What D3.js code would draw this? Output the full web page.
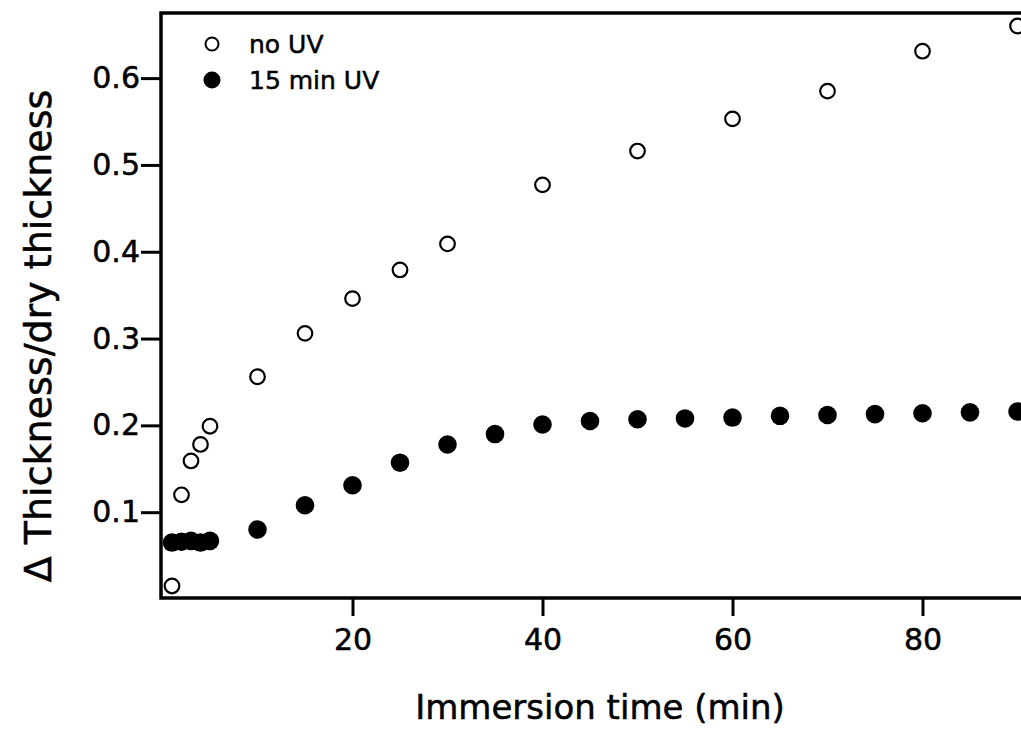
<!DOCTYPE html>
<html>
<head>
<meta charset="utf-8">
<script src="https://cdn.jsdelivr.net/npm/d3@7"></script>
<style>
  body { margin: 0; background: #fff; }
  svg { display: block; }
  text { font-family: "DejaVu Sans", sans-serif; fill: #000; stroke: #000; stroke-width: 0.5px; }
</style>
</head>
<body>
<svg id="chart" width="1021" height="731"></svg>
<script>
'use strict';

// immersion time (min)
var timesNoUV = [1, 2, 3, 4, 5, 10, 15, 20, 25, 30, 40, 50, 60, 70, 80, 90];
var valuesNoUV = [0.015, 0.120, 0.159, 0.178, 0.199, 0.256, 0.306, 0.346, 0.379, 0.409,
                  0.477, 0.516, 0.553, 0.585, 0.631, 0.660];

var timesUV = [1, 2, 3, 4, 5, 10, 15, 20, 25, 30, 35, 40, 45, 50, 55, 60, 65, 70, 75, 80, 85, 90];
var valuesUV = [0.065, 0.066, 0.067, 0.065, 0.067, 0.080, 0.108, 0.131, 0.157, 0.178,
                0.190, 0.201, 0.205, 0.207, 0.208, 0.209, 0.211, 0.212, 0.213, 0.214, 0.215, 0.216];

var xTicks = [20, 40, 60, 80];
var yTicks = [0.1, 0.2, 0.3, 0.4, 0.5, 0.6];
var legendLabels = ["no UV", "15 min UV"];

var svg = d3.select("#chart");

var plotLeft = 161, plotTop = 13, plotBottom = 598, plotRight = 1021;

var x = d3.scaleLinear().domain([0, 100]).range([162.5, 1112.5]);
var y = d3.scaleLinear().domain([0, 0.675]).range([599, 13]);

// axes
var xAxis = svg.append("g")
    .attr("transform", "translate(0," + plotBottom + ")")
    .call(d3.axisBottom(x).tickValues(xTicks).tickSize(18).tickPadding(13)
            .tickFormat(d3.format("d")));

var yAxis = svg.append("g")
    .attr("transform", "translate(" + plotLeft + ",0)")
    .call(d3.axisLeft(y).tickValues(yTicks).tickSize(20).tickPadding(1)
            .tickFormat(d3.format(".1f")));

[xAxis, yAxis].forEach(function(g) {
    g.attr("font-family", null).attr("font-size", null);
    g.select(".domain").remove();
    g.selectAll(".tick line").attr("stroke", "#000").attr("stroke-width", 3);
    g.selectAll(".tick text").style("font-size", "30px");
});

// frame (left, bottom, top; right side is cut off)
svg.append("path")
    .attr("d", "M" + plotRight + "," + plotTop + "H" + plotLeft + "V" + plotBottom + "H" + plotRight)
    .attr("fill", "none")
    .attr("stroke", "#000")
    .attr("stroke-width", 3.5);

var plot = svg.append("g");

plot.selectAll("circle.uv")
    .data(d3.zip(timesUV, valuesUV))
    .enter().append("circle")
    .attr("class", "uv")
    .attr("cx", function(d) { return x(d[0]); })
    .attr("cy", function(d) { return y(d[1]); })
    .attr("r", 9.3)
    .attr("fill", "#000");

plot.selectAll("circle.nouv")
    .data(d3.zip(timesNoUV, valuesNoUV))
    .enter().append("circle")
    .attr("class", "nouv")
    .attr("cx", function(d) { return x(d[0]); })
    .attr("cy", function(d) { return y(d[1]); })
    .attr("r", 7.3)
    .attr("fill", "#fff")
    .attr("stroke", "#000")
    .attr("stroke-width", 2.2);

// legend
var legend = svg.append("g");
legend.append("circle")
    .attr("cx", 212).attr("cy", 44).attr("r", 6.5)
    .attr("fill", "#fff").attr("stroke", "#000").attr("stroke-width", 2);
legend.append("circle")
    .attr("cx", 212).attr("cy", 80).attr("r", 8.5)
    .attr("fill", "#000");
legend.selectAll("text")
    .data(legendLabels)
    .enter().append("text")
    .attr("x", 249)
    .attr("y", function(d, i) { return 53 + i * 36; })
    .style("font-size", "25px")
    .text(function(d) { return d; });

// axis titles
svg.append("text")
    .attr("x", 600)
    .attr("y", 719)
    .attr("text-anchor", "middle")
    .style("font-size", "34px")
    .text("Immersion time (min)");

svg.append("text")
    .attr("transform", "translate(51,336) rotate(-90)")
    .attr("text-anchor", "middle")
    .style("font-size", "38px")
    .text("\u0394 Thickness/dry thickness");
</script>
</body>
</html>
